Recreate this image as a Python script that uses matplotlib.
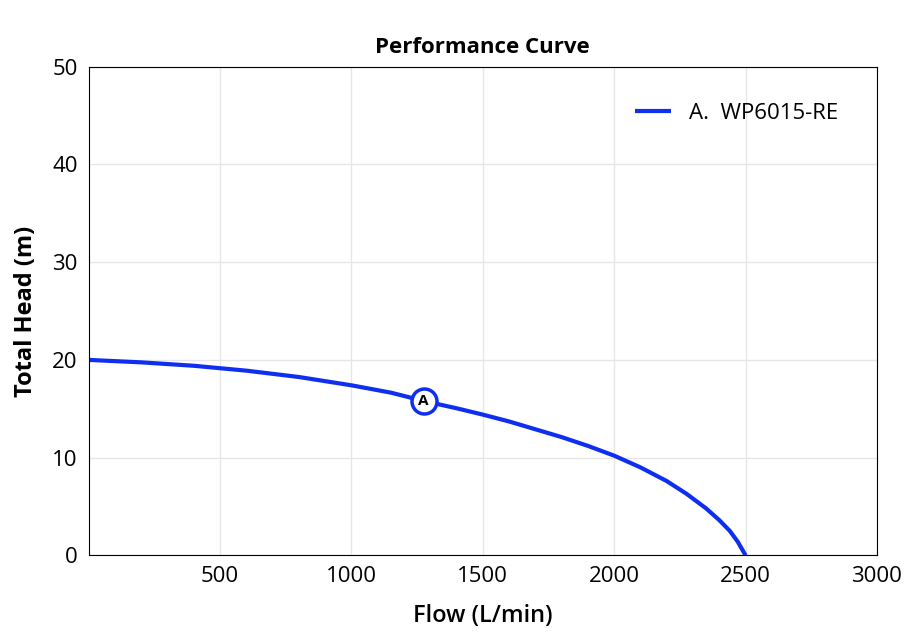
import numpy as np
import matplotlib
matplotlib.use('Agg')
import matplotlib.pyplot as plt

plt.rcParams['font.family'] = ['Open Sans', 'DejaVu Sans']

# Données
flow = [0, 200, 400, 600, 800, 1000, 1150, 1275, 1400, 1500, 1600, 1700, 1800, 1900,
        2000, 2100, 2200, 2275, 2350, 2400, 2440, 2470, 2500]
head = [20.0, 19.75, 19.4, 18.9, 18.25, 17.4, 16.65, 15.8, 15.05, 14.4, 13.7, 12.9,
        12.1, 11.2, 10.2, 9.0, 7.6, 6.3, 4.8, 3.6, 2.5, 1.4, 0.0]
point_a = (1275, 15.8)
label = 'A.  WP6015-RE'
couleur = '#0f2ff0'

fig, ax = plt.subplots(figsize=(9.05, 6.42), dpi=100)
fig.subplots_adjust(left=0.098, right=0.969, top=0.896, bottom=0.135)

ax.plot(flow, head, color=couleur, linewidth=3, label=label, solid_capstyle='butt')
ax.plot(*point_a, 'o', markersize=18, markerfacecolor='white',
        markeredgecolor=couleur, markeredgewidth=2.5, zorder=5)
ax.text(*point_a, 'A', ha='center', va='center', fontsize=11, weight='bold', zorder=6)

ax.set_xlim(0, 3000)
ax.set_ylim(0, 50)
ax.set_xticks([500, 1000, 1500, 2000, 2500, 3000])
ax.set_yticks([0, 10, 20, 30, 40, 50])
ax.tick_params(labelsize=16, length=0, pad=8)
ax.grid(True, color='#e6e6e6', linewidth=1)
ax.set_axisbelow(True)

ax.set_title('Performance Curve', fontsize=16, weight='bold', pad=10)
ax.set_xlabel('Flow (L/min)', fontsize=17, weight='semibold', labelpad=12)
ax.set_ylabel('Total Head (m)', fontsize=17, weight='bold', labelpad=10)

ax.legend(loc='upper right', frameon=False, fontsize=16, handlelength=1.6,
          borderaxespad=1.0, bbox_to_anchor=(0.99, 0.99))

plt.savefig('out.png', dpi=100)
plt.close()
